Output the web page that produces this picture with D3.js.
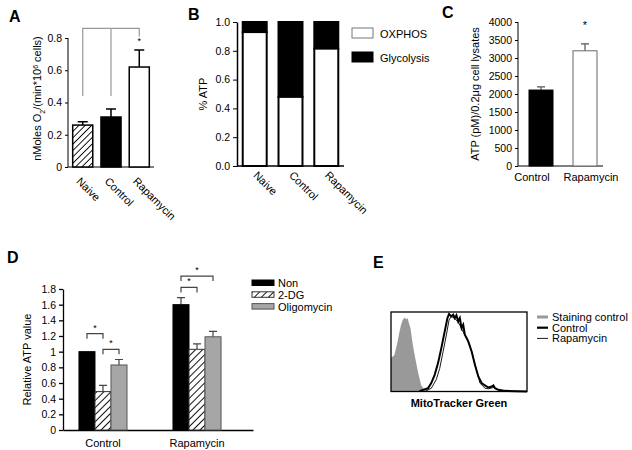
<!DOCTYPE html>
<html>
<head>
<meta charset="utf-8">
<script src="https://cdn.jsdelivr.net/npm/d3@7"></script>
<style>
  body { margin: 0; background: #fff; }
  svg { font-family: "Liberation Sans", Arial, sans-serif; }
  .axis text { font-size: 10.5px; fill: #000; }
  .axis path, .axis line { stroke: #000; }
</style>
</head>
<body>
<div id="fig"></div>
<script>
// panel A - oxygen consumption
const aCats = ["Naive", "Control", "Rapamycin"];
const aVals = [0.26, 0.31, 0.62];
const aErr = [0.02, 0.05, 0.105];
const aTicks = [0, 0.2, 0.4, 0.6, 0.8];

// panel B - % ATP
const bCats = ["Naive", "Control", "Rapamycin"];
const bOxphos = [0.93, 0.48, 0.815];
const bTicks = [0, 0.2, 0.4, 0.6, 0.8, 1.0];
const bLegend = ["OXPHOS", "Glycolysis"];

// panel C - ATP
const cCats = ["Control", "Rapamycin"];
const cVals = [2110, 3200];
const cErr = [90, 190];
const cTicks = [0, 500, 1000, 1500, 2000, 2500, 3000, 3500, 4000];

// panel D - relative ATP
const dGroups = ["Control", "Rapamycin"];
const dSeries = ["Non", "2-DG", "Oligomycin"];
const dNon = [1.0, 1.6];
const dNonErr = [0, 0.09];
const d2dg = [0.49, 1.03];
const d2dgErr = [0.08, 0.07];
const dOligo = [0.83, 1.19];
const dOligoErr = [0.07, 0.07];
const dTicks = [0, 0.2, 0.4, 0.6, 0.8, 1, 1.2, 1.4, 1.6, 1.8];
// brackets: group, from series, to series, level
const dBrackets = [
  ["Control", 0, 1, 1.23],
  ["Control", 1, 2, 1.03],
  ["Rapamycin", 0, 1, 1.82],
  ["Rapamycin", 0, 2, 1.965]
];

// panel E - MitoTracker histogram (channel 0-100, % of max)
const eStainX = [0, 2.5, 4.9, 6.2, 7.4, 8.6, 9.9, 11.1, 12.3, 12.8, 14.3, 16, 17.8, 19.8, 22.2, 24.7, 27.2, 30.9];
const eStainY = [42, 46, 63, 75, 84, 90, 93, 91, 92, 88, 80, 59, 42, 25, 8, 2, 1, 0];
const eCtrlX = [21, 23.5, 27.2, 29.6, 32.1, 34.6, 37, 39.5, 41.5, 42.7, 44.4, 45.7, 46.9, 48.1, 49.4, 50.6, 51.9, 53.1, 54.3, 55.6, 56.8, 59.3, 61.7, 64.2, 66.7, 69.1, 71.6, 74.1, 75.3, 76.5, 79, 84, 91.4, 100];
const eCtrlY = [0.5, 2, 4, 10.5, 21, 35.7, 54.6, 75.6, 92.4, 97.5, 94.5, 96.6, 92.4, 95.8, 88.2, 92.4, 79.8, 84, 71.4, 67.2, 63, 50.4, 33.6, 18.9, 10.5, 7.6, 5, 6.3, 7.6, 4.2, 2.1, 0.8, 0.4, 0];
const eRapaX = [25.9, 29.6, 33.3, 35.8, 38.3, 40.7, 42.7, 44.4, 46.9, 49.4, 51.9, 54.3, 56.8, 59.3, 61.7, 65.4, 69.1, 71.6, 75.3, 79, 86.4, 100];
const eRapaY = [1, 4, 15, 29, 50, 71, 90, 94.5, 91.6, 87.4, 79, 70.6, 63, 50.4, 34.5, 10.5, 4.2, 3.4, 5, 1.7, 0.4, 0];
const eLegend = ["Staining control", "Control", "Rapamycin"];

const svg = d3.select("#fig").append("svg")
    .attr("width", 632)
    .attr("height", 450);

const defs = svg.append("defs");
function hatch(id, gap, w, color) {
  defs.append("pattern")
      .attr("id", id)
      .attr("patternUnits", "userSpaceOnUse")
      .attr("width", gap)
      .attr("height", gap)
      .attr("patternTransform", "rotate(45)")
      .call(p => {
        p.append("rect").attr("width", gap).attr("height", gap).attr("fill", "#fff");
        p.append("line").attr("x1", 0).attr("y1", 0).attr("x2", 0).attr("y2", gap)
            .attr("stroke", color).attr("stroke-width", w);
      });
}
hatch("hatchA", 4.5, 1.8, "#000");
hatch("hatchD", 5, 2, "#111");

function letter(x, y, t) {
  svg.append("text").attr("x", x).attr("y", y)
      .style("font-size", "16px").style("font-weight", "bold").text(t);
}
function fmt1(d) { return d === 0 ? "0" : String(+d.toFixed(1)); }

// ---------- panel A ----------
letter(9, 22, "A");
const ax = d3.scaleBand().domain(aCats).range([68, 154]).paddingInner(0.29).paddingOuter(0.166);
const ay = d3.scaleLinear().domain([0, 0.8]).range([167, 38]);
const gA = svg.append("g");

gA.append("g").attr("class", "axis")
    .attr("transform", "translate(68,0)")
    .call(d3.axisLeft(ay).tickValues(aTicks).tickFormat(fmt1).tickSize(3).tickSizeOuter(0))
    .call(g => g.select(".domain").attr("d", "M0," + ay(0) + "V" + ay(0.8)));
gA.append("line").attr("x1", 68).attr("x2", 154).attr("y1", ay(0)).attr("y2", ay(0)).attr("stroke", "#000");

const aFill = ["url(#hatchA)", "#000", "#fff"];
gA.selectAll(".errA").data(aVals).enter().append("path")
    .attr("fill", "none").attr("stroke", "#000").attr("stroke-width", 1.5)
    .attr("d", (d, i) => {
      const cx = ax(aCats[i]) + ax.bandwidth() / 2;
      return "M" + cx + "," + ay(d) + "V" + ay(d + aErr[i]) + "M" + (cx - 5) + "," + ay(d + aErr[i]) + "H" + (cx + 5);
    });
gA.selectAll(".barA").data(aVals).enter().append("rect")
    .attr("x", (d, i) => ax(aCats[i]))
    .attr("y", d => ay(d))
    .attr("width", ax.bandwidth())
    .attr("height", d => ay(0) - ay(d))
    .attr("fill", (d, i) => aFill[i])
    .attr("stroke", "#000").attr("stroke-width", 1.5);

// significance bracket
const aC = aCats.map(c => ax(c) + ax.bandwidth() / 2);
gA.append("path").attr("fill", "none").attr("stroke", "#999").attr("stroke-width", 1.2)
    .attr("d", "M" + aC[0] + "," + ay(0.44) + "V" + ay(0.86) + "H" + aC[2] + "V" + ay(0.81)
      + "M" + aC[1] + "," + ay(0.86) + "V" + ay(0.44));
gA.append("text").attr("x", aC[2]).attr("y", ay(0.76)).attr("text-anchor", "middle")
    .style("font-size", "9px").text("*");

gA.selectAll(".xlabA").data(aCats).enter().append("text")
    .attr("transform", d => "translate(" + (ax(d) + ax.bandwidth() / 2 - 7) + "," + (ay(0) + 15) + ") rotate(45)")
    .style("font-size", "11px").text(d => d);

const aLab = gA.append("text")
    .attr("transform", "translate(41," + ((ay(0) + ay(0.8)) / 2 - 4) + ") rotate(-90)")
    .attr("text-anchor", "middle").style("font-size", "11px");
aLab.append("tspan").text("nMoles O");
aLab.append("tspan").attr("baseline-shift", "sub").style("font-size", "7px").text("2");
aLab.append("tspan").text("/(min*10");
aLab.append("tspan").attr("baseline-shift", "super").style("font-size", "7px").text("6");
aLab.append("tspan").text(" cells)");

// ---------- panel B ----------
letter(188, 20, "B");
const bx = d3.scaleBand().domain(bCats).range([237, 344]).paddingInner(0.33).paddingOuter(0.16);
const by = d3.scaleLinear().domain([0, 1]).range([166, 22]);
const gB = svg.append("g");
gB.append("g").attr("class", "axis")
    .attr("transform", "translate(237,0)")
    .call(d3.axisLeft(by).tickValues(bTicks).tickFormat(d3.format(".1f")).tickSize(4).tickSizeOuter(0))
    .call(g => g.select(".domain").attr("stroke-width", 1.5));
gB.append("line").attr("x1", 237).attr("x2", 344).attr("y1", by(0)).attr("y2", by(0))
    .attr("stroke", "#000").attr("stroke-width", 1.5);

gB.selectAll(".glyB").data(bOxphos).enter().append("rect")
    .attr("x", (d, i) => bx(bCats[i]))
    .attr("y", by(1))
    .attr("width", bx.bandwidth())
    .attr("height", d => by(d) - by(1))
    .attr("fill", "#000").attr("stroke", "#000").attr("stroke-width", 2);
gB.selectAll(".oxB").data(bOxphos).enter().append("rect")
    .attr("x", (d, i) => bx(bCats[i]))
    .attr("y", d => by(d))
    .attr("width", bx.bandwidth())
    .attr("height", d => by(0) - by(d))
    .attr("fill", "#fff").attr("stroke", "#000").attr("stroke-width", 2);

gB.selectAll(".xlabB").data(bCats).enter().append("text")
    .attr("transform", d => "translate(" + (bx(d) + bx.bandwidth() / 2 - 2) + "," + (by(0) + 10) + ") rotate(45)")
    .style("font-size", "11px").text(d => d);

gB.append("text")
    .attr("transform", "translate(207," + ((by(0) + by(1)) / 2) + ") rotate(-90)")
    .attr("text-anchor", "middle").style("font-size", "11px").text("% ATP");

const bLeg = gB.selectAll(".legB").data(bLegend).enter().append("g")
    .attr("transform", (d, i) => "translate(352," + (28 + i * 24) + ")");
bLeg.append("rect").attr("width", 21).attr("height", 10)
    .attr("fill", (d, i) => i === 0 ? "#fff" : "#000")
    .attr("stroke", (d, i) => i === 0 ? "#777" : "#000");
bLeg.append("text").attr("x", 28).attr("y", 9.5).style("font-size", "11px").text(d => d);

// ---------- panel C ----------
letter(442, 18, "C");
const cx = d3.scaleBand().domain(cCats).range([518, 608]).paddingInner(0.4545).paddingOuter(0.25);
const cy = d3.scaleLinear().domain([0, 4000]).range([166, 22]);
const gC = svg.append("g");
gC.append("g").attr("class", "axis")
    .attr("transform", "translate(518,0)")
    .call(d3.axisLeft(cy).tickValues(cTicks).tickFormat(d3.format("d")).tickSize(3).tickSizeOuter(0))
    .call(g => g.select(".domain").attr("d", "M0," + cy(0) + "V" + cy(4000)));
gC.append("line").attr("x1", 518).attr("x2", 603).attr("y1", cy(0)).attr("y2", cy(0)).attr("stroke", "#000");
gC.selectAll(".errC").data(cVals).enter().append("path")
    .attr("fill", "none").attr("stroke", "#555").attr("stroke-width", 1.2)
    .attr("d", (d, i) => {
      const m = cx(cCats[i]) + cx.bandwidth() / 2;
      return "M" + m + "," + cy(d) + "V" + cy(d + cErr[i]) + "M" + (m - 4) + "," + cy(d + cErr[i]) + "H" + (m + 4);
    });
gC.selectAll(".barC").data(cVals).enter().append("rect")
    .attr("x", (d, i) => cx(cCats[i]))
    .attr("y", d => cy(d))
    .attr("width", cx.bandwidth())
    .attr("height", d => cy(0) - cy(d))
    .attr("fill", (d, i) => i === 0 ? "#000" : "#fff")
    .attr("stroke", (d, i) => i === 0 ? "#000" : "#666").attr("stroke-width", 1);
gC.append("text").attr("x", cx("Rapamycin") + cx.bandwidth() / 2).attr("y", cy(3800))
    .attr("text-anchor", "middle").style("font-size", "11px").text("*");
gC.selectAll(".xlabC").data(cCats).enter().append("text")
    .attr("x", (d, i) => cx(d) + cx.bandwidth() / 2 + (i === 0 ? -9 : 6))
    .attr("y", cy(0) + 15)
    .attr("text-anchor", "middle").style("font-size", "11px").text(d => d);
gC.append("text")
    .attr("transform", "translate(479," + ((cy(0) + cy(4000)) / 2) + ") rotate(-90)")
    .attr("text-anchor", "middle").style("font-size", "11px").text("ATP (pM)/0.2μg cell lysates");

// ---------- panel D ----------
letter(7, 263, "D");
const dx = d3.scaleBand().domain(dGroups).range([63, 253]).paddingInner(0.489).paddingOuter(0.255).align(0.333);
const dsub = d3.scaleBand().domain(dSeries).range([0, dx.bandwidth()]);
const dy = d3.scaleLinear().domain([0, 1.8]).range([430, 289]);
const gD = svg.append("g");
gD.append("g").attr("class", "axis")
    .attr("transform", "translate(63,0)")
    .call(d3.axisLeft(dy).tickValues(dTicks).tickFormat(fmt1).tickSize(4).tickSizeOuter(0))
    .call(g => g.selectAll("line,path").attr("stroke", "#666").attr("stroke-width", 1.3));
gD.append("g").attr("class", "axis")
    .attr("transform", "translate(0,430)")
    .call(d3.axisBottom(dx).tickSize(0).tickSizeOuter(0).tickPadding(9))
    .call(g => g.select(".domain").attr("stroke", "#666").attr("stroke-width", 1.3))
    .call(g => g.selectAll("text").style("font-size", "11px"));

const dVals = [dNon, d2dg, dOligo];
const dErrs = [dNonErr, d2dgErr, dOligoErr];
const dFill = ["#000", "url(#hatchD)", "#a6a6a6"];
const dStroke = ["#000", "#333", "#555"];
const dBars = [];
dGroups.forEach((g, gi) => dSeries.forEach((s, si) => {
  dBars.push({ g: g, s: s, si: si, v: dVals[si][gi], e: dErrs[si][gi] });
}));
gD.selectAll(".errD").data(dBars.filter(d => d.e > 0)).enter().append("path")
    .attr("fill", "none").attr("stroke", "#444").attr("stroke-width", 1.2)
    .attr("d", d => {
      const m = dx(d.g) + dsub(d.s) + dsub.bandwidth() / 2;
      return "M" + m + "," + dy(d.v) + "V" + dy(d.v + d.e) + "M" + (m - 4) + "," + dy(d.v + d.e) + "H" + (m + 4);
    });
gD.selectAll(".barD").data(dBars).enter().append("rect")
    .attr("x", d => dx(d.g) + dsub(d.s))
    .attr("y", d => dy(d.v))
    .attr("width", dsub.bandwidth())
    .attr("height", d => dy(0) - dy(d.v))
    .attr("fill", d => dFill[d.si])
    .attr("stroke", d => dStroke[d.si]).attr("stroke-width", 1);

dBrackets.forEach(b => {
  const x1 = dx(b[0]) + dsub(dSeries[b[1]]) + dsub.bandwidth() / 2;
  const x2 = dx(b[0]) + dsub(dSeries[b[2]]) + dsub.bandwidth() / 2;
  const y = dy(b[3]);
  gD.append("path").attr("fill", "none").attr("stroke", "#444").attr("stroke-width", 1.2)
      .attr("d", "M" + x1 + "," + (y + 5) + "V" + y + "H" + x2 + "V" + (y + 5));
  gD.append("text").attr("x", (x1 + x2) / 2).attr("y", y - 3)
      .attr("text-anchor", "middle").style("font-size", "9px").text("*");
});

gD.append("text")
    .attr("transform", "translate(31," + ((dy(0) + dy(1.8)) / 2) + ") rotate(-90)")
    .attr("text-anchor", "middle").style("font-size", "11px").text("Relative ATP value");

const dLeg = gD.selectAll(".legD").data(dSeries).enter().append("g")
    .attr("transform", (d, i) => "translate(252," + (280 + i * 11.8) + ")");
dLeg.append("rect").attr("width", 22).attr("height", 5.5)
    .attr("fill", (d, i) => dFill[i]).attr("stroke", (d, i) => dStroke[i]);
dLeg.append("text").attr("x", 26).attr("y", 7).style("font-size", "11px").text(d => d);

// ---------- panel E ----------
letter(373, 268, "E");
const ex = d3.scaleLinear().domain([0, 100]).range([391, 527]);
const ey = d3.scaleLinear().domain([0, 100]).range([391.5, 312]);
const gE = svg.append("g");
gE.append("path")
    .datum(eStainX.map((x, i) => [x, eStainY[i]]))
    .attr("fill", "#999")
    .attr("d", d3.area().x(d => ex(d[0])).y0(ey(0)).y1(d => ey(d[1])));
gE.append("path")
    .datum(eRapaX.map((x, i) => [x, eRapaY[i]]))
    .attr("fill", "none").attr("stroke", "#000").attr("stroke-width", 0.9)
    .attr("d", d3.line().x(d => ex(d[0])).y(d => ey(d[1])));
gE.append("path")
    .datum(eCtrlX.map((x, i) => [x, eCtrlY[i]]))
    .attr("fill", "none").attr("stroke", "#000").attr("stroke-width", 2)
    .attr("d", d3.line().x(d => ex(d[0])).y(d => ey(d[1])));
gE.append("rect").attr("x", ex(0)).attr("y", ey(100))
    .attr("width", ex(100) - ex(0)).attr("height", ey(0) - ey(100))
    .attr("fill", "none").attr("stroke", "#000").attr("stroke-width", 1.3);
gE.append("text").attr("x", (ex(0) + ex(100)) / 2).attr("y", 407)
    .attr("text-anchor", "middle").style("font-size", "11px").style("font-weight", "bold")
    .text("MitoTracker Green");

const eLeg = gE.selectAll(".legE").data(eLegend).enter().append("g")
    .attr("transform", (d, i) => "translate(537," + (317 + i * 10.7) + ")");
eLeg.append("line").attr("x1", 0).attr("x2", 11)
    .attr("stroke", (d, i) => i === 0 ? "#999" : "#000")
    .attr("stroke-width", (d, i) => [3, 2.2, 0.9][i]);
eLeg.append("text").attr("x", 15).attr("y", 4).style("font-size", "11px").text(d => d);
</script>
</body>
</html>
